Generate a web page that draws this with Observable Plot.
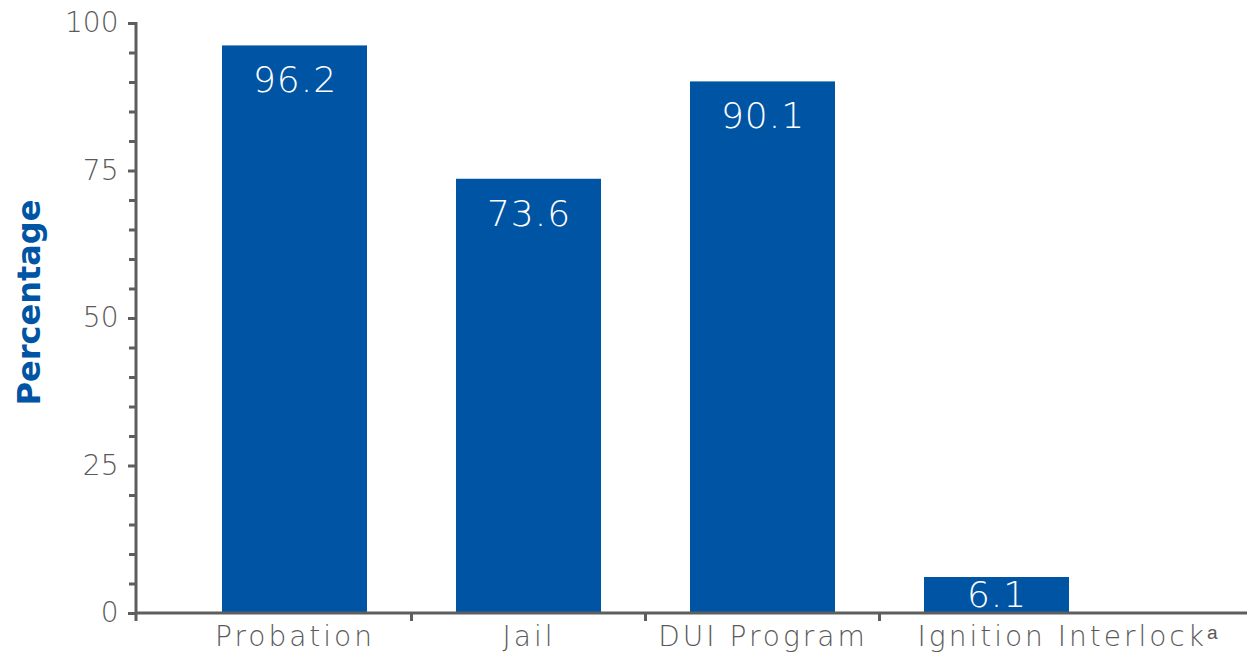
<!DOCTYPE html>
<html>
<head>
<meta charset="utf-8">
<script src="https://cdn.jsdelivr.net/npm/d3@7"></script>
<script src="https://cdn.jsdelivr.net/npm/@observablehq/plot@0.6"></script>
<style>
  html, body { margin: 0; padding: 0; background: #fff; }
  #chart svg { display: block; }
  #chart g[aria-label="x-axis tick label"] text, #chart g.x-label text { letter-spacing: 3px; }
  #chart g.bar-value text { letter-spacing: 1px; }
</style>
</head>
<body>
<div id="chart"></div>
<script>
// ---- data ----
const categories = ["Probation", "Jail", "DUI Program", "Ignition Interlockᵃ"];
const percentages = [96.2, 73.6, 90.1, 6.1];
const valueLabels = ["96.2", "73.6", "90.1", "6.1"];
const yMajorTicks = [0, 25, 50, 75, 100];
const yMinorTicks = [5, 10, 15, 20, 30, 35, 40, 45, 55, 60, 65, 70, 80, 85, 90, 95];
const yAxisTitle = "Percentage";

const data = categories.map((c, i) => ({cat: c, v: percentages[i], label: valueLabels[i]}));
const lastCat = categories[categories.length - 1];

const blue = "#0054a4";
const gray = "#5e5e5e";
const textGray = "#5a5a5a";
const font = "'DejaVu Sans', sans-serif";

// custom mark: axis lines + boundary ticks between categories
function axisLines(index, scales, values, dimensions) {
  const {x, y} = scales;
  const {marginLeft, width, marginRight} = dimensions;
  const g = d3.create("svg:g").attr("stroke", gray).attr("stroke-width", 3).attr("fill", "none");
  const y0 = y(0);
  g.append("line").attr("x1", marginLeft).attr("x2", marginLeft)
    .attr("y1", y(100) - 1).attr("y2", y0 + 8);
  g.append("line").attr("x1", marginLeft).attr("x2", width - marginRight)
    .attr("y1", y0).attr("y2", y0);
  const bw = typeof x.bandwidth === "function" ? x.bandwidth() : x.bandwidth;
  for (let i = 1; i < categories.length; i++) {
    const xb = (x(categories[i - 1]) + bw + x(categories[i])) / 2;
    if (Number.isFinite(xb)) {
      g.append("line").attr("x1", xb).attr("x2", xb).attr("y1", y0).attr("y2", y0 + 8);
    }
  }
  return g.node();
}

const xLabelStyle = {fontSize: 28, fontWeight: 200, fill: textGray};

const chart = Plot.plot({
  width: 1247,
  height: 655,
  marginLeft: 136,
  marginRight: 0,
  marginTop: 23,
  marginBottom: 42,
  style: {fontFamily: font, background: "#fff"},
  x: {domain: categories, range: [178, 1114], paddingInner: 0.38, paddingOuter: 0.19, align: 0.5, label: null},
  y: {domain: [0, 100], label: null},
  marks: [
    Plot.barY(data, {x: "cat", y: "v", fill: blue}),
    Plot.axisY({ticks: yMinorTicks, tickFormat: () => "", tickSize: 7, stroke: gray, strokeWidth: 3, label: null}),
    Plot.axisY({ticks: yMajorTicks, tickSize: 8, tickPadding: 10, stroke: gray, strokeWidth: 3,
      fontSize: 28, fontWeight: 200, fill: textGray, label: null}),
    Plot.axisX({tickSize: 0, tickPadding: 13, ...xLabelStyle, label: null,
      tickFormat: d => (d === lastCat ? "" : d)}),
    Plot.text([lastCat], {x: d => d, text: d => d, frameAnchor: "bottom", lineAnchor: "top",
      dy: 13, dx: 72, className: "x-label", ...xLabelStyle}),
    axisLines,
    Plot.text(data.filter(d => d.v > 20), {x: "cat", y: "v", text: "label", dy: 35, className: "bar-value",
      fill: "white", fontSize: 36, fontWeight: 200, lineAnchor: "middle"}),
    Plot.text(data.filter(d => d.v <= 20), {x: "cat", y: d => d.v / 2, text: "label", className: "bar-value",
      fill: "white", fontSize: 36, fontWeight: 200, lineAnchor: "middle"}),
    Plot.text([yAxisTitle], {frameAnchor: "left", dx: -107, dy: -16, rotate: -90, text: d => d,
      fill: blue, fontSize: 32, fontWeight: "bold", lineAnchor: "middle", textAnchor: "middle"})
  ]
});

document.getElementById("chart").append(chart);
</script>
</body>
</html>
